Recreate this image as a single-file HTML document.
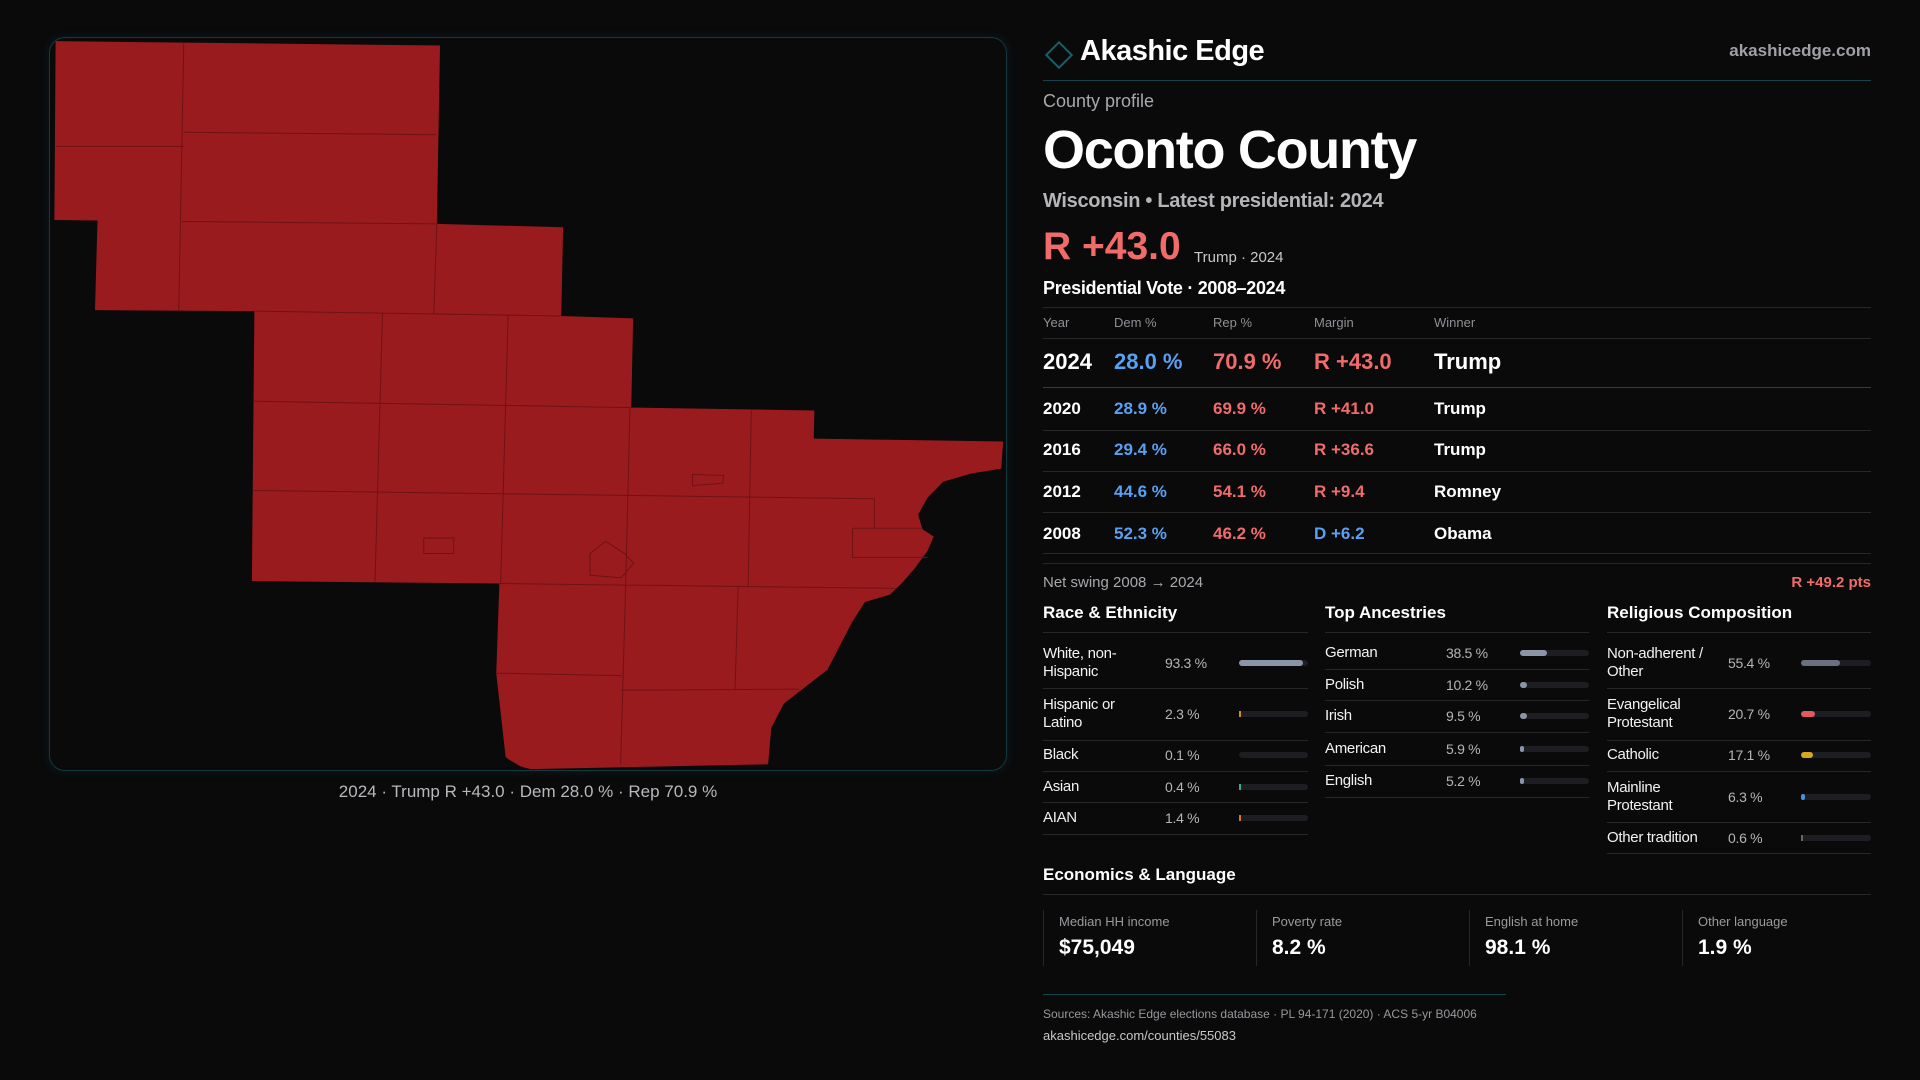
<!DOCTYPE html>
<html><head><meta charset="utf-8">
<style>
*{margin:0;padding:0;box-sizing:border-box}
body{width:1920px;height:1080px;background:#0a0a0b;font-family:"Liberation Sans",sans-serif;color:#fff;position:relative;overflow:hidden}
.a{position:absolute;white-space:nowrap}
.g{color:#a8a8ad}
.line{position:absolute;height:1px;background:#26272b}
.red{color:#f26b6b}.blue{color:#5aa0f2}
.lbl{font-size:15px;line-height:18px;color:#f2f2f2;letter-spacing:-0.3px}
.val{font-size:14px;color:#b5b5b8;letter-spacing:-0.3px}
.track{position:absolute;height:6px;border-radius:3px;background:#1d1e22}
.fill{position:absolute;left:0;top:0;height:6px;border-radius:3px}
.box{position:absolute;top:910px;height:56px;border-left:1px solid #26272b}
</style></head><body>

<div class="a" style="left:49px;top:37px;width:958px;height:734px;border:1px solid #143a40;border-radius:16px;box-shadow:0 0 10px rgba(20,80,90,0.25)"></div>
<svg class="a" style="left:40px;top:30px" width="980" height="760" viewBox="0 0 1568 1568" preserveAspectRatio="none">
<polygon fill="#9a1b1e" points="25,23 640,32 635,400 837,407 834,590 949,595 946,779 1239,785 1238,843 1338,845 1541,849 1538,905 1490,915 1445,932 1420,965 1405,1000 1412,1030 1430,1045 1420,1075 1400,1110 1380,1140 1360,1165 1320,1180 1300,1220 1280,1270 1260,1320 1220,1360 1190,1390 1170,1440 1165,1515 785,1525 770,1520 750,1505 745,1500 730,1327 735,1142 339,1137 343,580 88,578 92,393 23,392"/>
<g stroke="#6e1215" stroke-width="1" fill="none">
<path vector-effect="non-scaling-stroke" d="M230,27L222,578M25,240L230,240M230,211L633,216M227,395L635,400M635,400L630,587M343,580L834,590M548,585L536,1139M749,589L737,1142M343,766L946,779M944,779L937,1148M1138,785L1133,1150M340,950L1335,967M1335,967L1335,1028M1300,1028L1410,1028M1300,1028L1300,1088L1420,1088M735,1142L1370,1152M1117,1150L1112,1360M730,1327L930,1332M930,1362L1215,1360M937,1148L929,1515M614,1048L662,1048L662,1080L614,1080ZM1044,917L1094,919L1092,935L1044,940ZM880,1080L905,1055L935,1080L950,1100L930,1130L880,1125Z"/>
</g>
</svg>
<div class="a g" style="left:0;width:1056px;text-align:center;top:782px;font-size:17px;color:#b8b8bc">2024 · Trump R +43.0 · Dem 28.0 % · Rep 70.9 %</div>

<div class="a" style="left:1049px;top:45px;width:20px;height:20px;border:2px solid #17606a;transform:rotate(45deg)"></div>
<div class="a" style="left:1080px;top:35px;font-size:29px;font-weight:bold;letter-spacing:-0.5px">Akashic Edge</div>
<div class="a" style="right:49px;top:41px;font-size:17px;color:#a0a0a5;font-weight:bold">akashicedge.com</div>
<div class="line" style="left:1043px;width:828px;top:80px;background:#15454c"></div>

<div class="a g" style="left:1043px;top:91px;font-size:18px">County profile</div>
<div class="a" style="left:1043px;top:119px;font-size:54px;font-weight:bold;letter-spacing:-1.3px">Oconto County</div>
<div class="a" style="left:1043px;top:190px;font-size:20px;color:#b5b5b8;font-weight:bold;letter-spacing:-0.3px">Wisconsin • Latest presidential: 2024</div>
<div class="a red" style="left:1043px;top:225px;font-size:39px;font-weight:bold">R +43.0</div>
<div class="a" style="left:1194px;top:249px;font-size:15px;color:#c8c8cc">Trump · 2024</div>
<div class="a" style="left:1043px;top:278px;font-size:18px;font-weight:bold;letter-spacing:-0.3px">Presidential Vote · 2008–2024</div>

<div id="vt"></div>

<div class="a g" style="left:1043px;top:574px;font-size:15px">Net swing 2008 → 2024</div>
<div class="a red" style="right:49px;top:574px;font-size:15px;font-weight:bold">R +49.2 pts</div>

<div id="demo"></div>

<div class="a" style="left:1043px;top:865px;font-size:17px;font-weight:bold">Economics &amp; Language</div>
<div class="line" style="left:1043px;width:828px;top:894px"></div>
<div id="econ"></div>

<div class="line" style="left:1043px;width:463px;top:994px;background:#15454c"></div>
<div class="a g" style="left:1043px;top:1007px;font-size:12px;color:#98989d">Sources: Akashic Edge elections database · PL 94-171 (2020) · ACS 5-yr B04006</div>
<div class="a" style="left:1043px;top:1028px;font-size:13px;color:#c8c8cc">akashicedge.com/counties/55083</div>

<script>
const years=["2024","2020","2016","2012","2008"];
const demPct=[28.0,28.9,29.4,44.6,52.3];
const repPct=[70.9,69.9,66.0,54.1,46.2];
const margins=[43.0,41.0,36.6,9.4,-6.2];
const winners=["Trump","Trump","Trump","Romney","Obama"];
const raceLabels=["White, non-Hispanic","Hispanic or Latino","Black","Asian","AIAN"];
const raceVals=[93.3,2.3,0.1,0.4,1.4];
const ancLabels=["German","Polish","Irish","American","English"];
const ancVals=[38.5,10.2,9.5,5.9,5.2];
const relLabels=["Non-adherent / Other","Evangelical Protestant","Catholic","Mainline Protestant","Other tradition"];
const relVals=[55.4,20.7,17.1,6.3,0.6];
const econLabels=["Median HH income","Poverty rate","English at home","Other language"];
const econVals=["$75,049","8.2 %","98.1 %","1.9 %"];

function mk(parent,cls,style,html){const d=document.createElement('div');d.className=cls;d.style.cssText=style;if(html!==undefined)d.innerHTML=html;parent.appendChild(d);return d;}
const vt=document.getElementById('vt');
let l=mk(vt,'line','left:1043px;width:828px;top:307px');


const cols=[1043,1114,1213,1314,1434];
["Year","Dem %","Rep %","Margin","Winner"].forEach((h,i)=>{
  const e=mk(vt,'a g','left:'+cols[i]+'px;top:315px;font-size:13px;color:#909095',h);
  
  
});
l=mk(vt,'line','left:1043px;width:828px;top:338px');


const rowY=[362,409,450,492,534];
const ruleY=[387,430,471,512,553];
years.forEach((y,i)=>{
  const big=i===0, fs=big?22:17, top=rowY[i]-fs*0.6;
  const m=margins[i];
  const mtxt=(m>=0?'R +':'D +')+Math.abs(m).toFixed(1);
  const vals=[y,demPct[i].toFixed(1)+' %',repPct[i].toFixed(1)+' %',mtxt,winners[i]];
  const colors=['#fff','#5aa0f2','#f26b6b',m>=0?'#f26b6b':'#5aa0f2','#fff'];
  vals.forEach((v,j)=>{
    const e=mk(vt,'a','left:'+cols[j]+'px;top:'+top+'px;font-size:'+fs+'px;font-weight:bold;color:'+colors[j],v);
    
    
  });
  const r=mk(vt,'line','left:1043px;width:828px;top:'+ruleY[i]+'px;background:'+(i===0?'#3a3b40':'#26272b'));
  
  
});
l=mk(vt,'line','left:1043px;width:828px;top:563px');



const demo=document.getElementById('demo');
function section(title,x,labels,vals,centers,rules,colors,valX,barX,barW){
  const t=mk(demo,'a','left:'+x+'px;top:603px;font-size:17px;font-weight:bold',title);
  
  
  const r0=mk(demo,'line','left:'+x+'px;width:'+(barX+barW-x)+'px;top:632px');
  
  
  labels.forEach((lb,i)=>{
    const c=centers[i];
    const two=lb.length>15 && lb!=='Other tradition';
    const e=mk(demo,'a lbl','left:'+x+'px;top:'+(c-(two?18:9))+'px;'+(two?'width:96px;white-space:normal':''),lb);
    
    
    const v=mk(demo,'a val','left:'+valX+'px;top:'+(c-8)+'px',vals[i].toFixed(1)+' %');
    
    
    const tr=mk(demo,'track','left:'+barX+'px;top:'+(c-3)+'px;width:'+barW+'px');
    
    
    const f=mk(tr,'fill','width:'+Math.max(2,barW*vals[i]/100)+'px;background:'+colors[i]+(vals[i]<3?';border-radius:0':''));
    
    
    if(vals[i]<0.3) f.style.display='none';
    const rl=mk(demo,'line','left:'+x+'px;width:'+(barX+barW-x)+'px;top:'+rules[i]+'px');
    
    
  });
}
section('Race & Ethnicity',1043,raceLabels,raceVals,[663,714,755,787,818],[688,740,771,802,834],['#8a96a8','#d98a1a','#888','#2fb08a','#d9781a'],1165,1239,69);
section('Top Ancestries',1325,ancLabels,ancVals,[653,685,716,749,781],[669,700,732,765,797],['#8a96a8','#8a96a8','#8a96a8','#8a96a8','#8a96a8'],1446,1520,69);
section('Religious Composition',1607,relLabels,relVals,[663,714,755,797,838],[688,740,771,822,853],['#6b7080','#e05a5e','#d9a61f','#4a8fe6','#666'],1728,1801,70);

const econ=document.getElementById('econ');
econLabels.forEach((lb,i)=>{
  const x=1043+i*213;
  const b=mk(econ,'box','left:'+x+'px;width:213px');
  
  
  const a=mk(b,'a','left:15px;top:4px;font-size:13px;color:#9a9a9f',lb);
  
  
  const v=mk(b,'a','left:15px;top:26px;font-size:21px;font-weight:bold',econVals[i]);
  
  
});
</script>
</body></html>
